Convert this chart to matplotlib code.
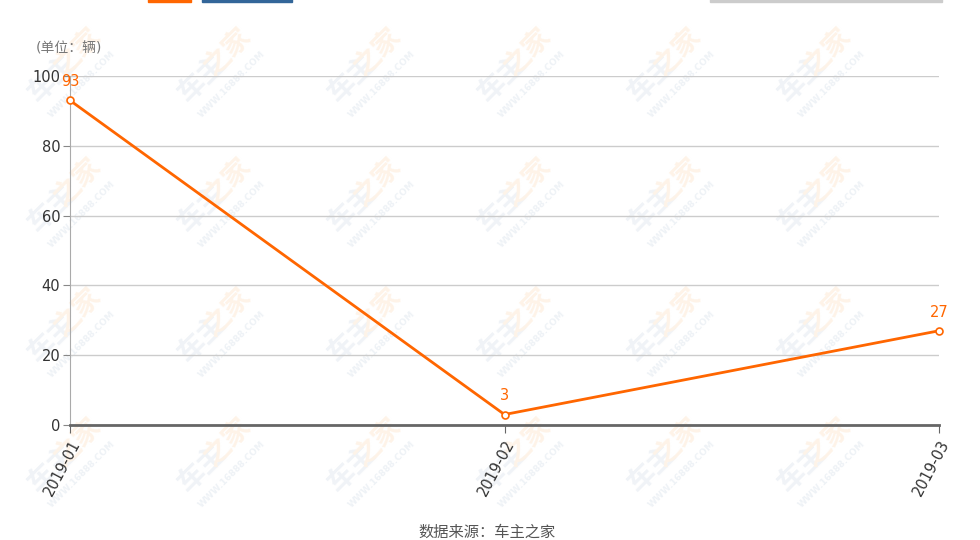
import matplotlib
matplotlib.use("Agg")
import matplotlib.pyplot as plt
from matplotlib.patches import Rectangle

plt.rcParams['font.family'] = ['DejaVu Sans', 'Noto Sans CJK SC']

# data
months = ['2019-01', '2019-02', '2019-03']
sales = [93, 3, 27]
y_ticks = [0, 20, 40, 60, 80, 100]

orange = '#ff6600'

fig = plt.figure(figsize=(9.8, 5.4), dpi=100)
ax = fig.add_axes([70 / 980, 1 - 425 / 540, 869 / 980, 349 / 540])

# faint watermark tiles behind the chart
for wy in [70, 200, 330, 460]:
    for wx in [60, 210, 360, 510, 660, 810]:
        fig.text((wx - 8) / 980, 1 - (wy + 8) / 540, '车主', color='#f0f3f7', fontsize=20,
                 fontweight='bold', rotation=45, ha='center', va='center', zorder=-5,
                 family='Noto Sans CJK SC')
        fig.text((wx + 18) / 980, 1 - (wy - 18) / 540, '之家', color='#fef3e8', fontsize=20,
                 fontweight='bold', rotation=45, ha='center', va='center', zorder=-5,
                 family='Noto Sans CJK SC')
        fig.text((wx + 22) / 980, 1 - (wy + 14) / 540, 'WWW.16888.COM', color='#eef2f6',
                 fontsize=6.5, fontweight='bold', rotation=45, ha='center', va='center', zorder=-5)

ax.set_facecolor('none')
x = list(range(len(months)))
ax.plot(x, sales, color=orange, lw=2, marker='o', ms=5, mfc='white', mec=orange,
        mew=1.2, zorder=5, clip_on=False)
for xi, v in zip(x, sales):
    ax.annotate(str(v), (xi, v), xytext=(0, 8), textcoords='offset points',
                ha='center', va='bottom', color=orange, fontsize=10.5)

ax.set_xlim(0, len(months) - 1)
ax.set_ylim(0, 100)
ax.set_yticks(y_ticks)
ax.set_xticks(x)
ax.set_xticklabels(months, rotation=62, ha='right', va='top', rotation_mode='anchor')
ax.grid(axis='y', color='#cccccc', lw=1)
ax.set_axisbelow(True)

for s in ['top', 'right']:
    ax.spines[s].set_visible(False)
ax.spines['left'].set_color('#aaaaaa')
ax.spines['bottom'].set_color('#666666')
ax.spines['bottom'].set_linewidth(2)
ax.tick_params(axis='y', length=5, color='#888888', labelcolor='#333333', labelsize=10.5, pad=2)
ax.tick_params(axis='x', length=6, color='#666666', labelcolor='#333333', labelsize=10.5, pad=3)

fig.text(36 / 980, 1 - 48 / 540, '(单位：辆)', color='#777777', fontsize=10, va='center')
fig.text(487 / 980, 1 - 532 / 540, '数据来源：车主之家', color='#555555', fontsize=11,
         ha='center', va='center')

# cut-off legend marks at the top
fig.patches.append(Rectangle((148 / 980, 1 - 2 / 540), 43 / 980, 3 / 540,
                             transform=fig.transFigure, color=orange))
fig.patches.append(Rectangle((202 / 980, 1 - 2 / 540), 90 / 980, 3 / 540,
                             transform=fig.transFigure, color='#336699'))
fig.patches.append(Rectangle((710 / 980, 1 - 1.5 / 540), 232 / 980, 2 / 540,
                             transform=fig.transFigure, color='#cccccc'))

fig.savefig('out.png', dpi=100)
